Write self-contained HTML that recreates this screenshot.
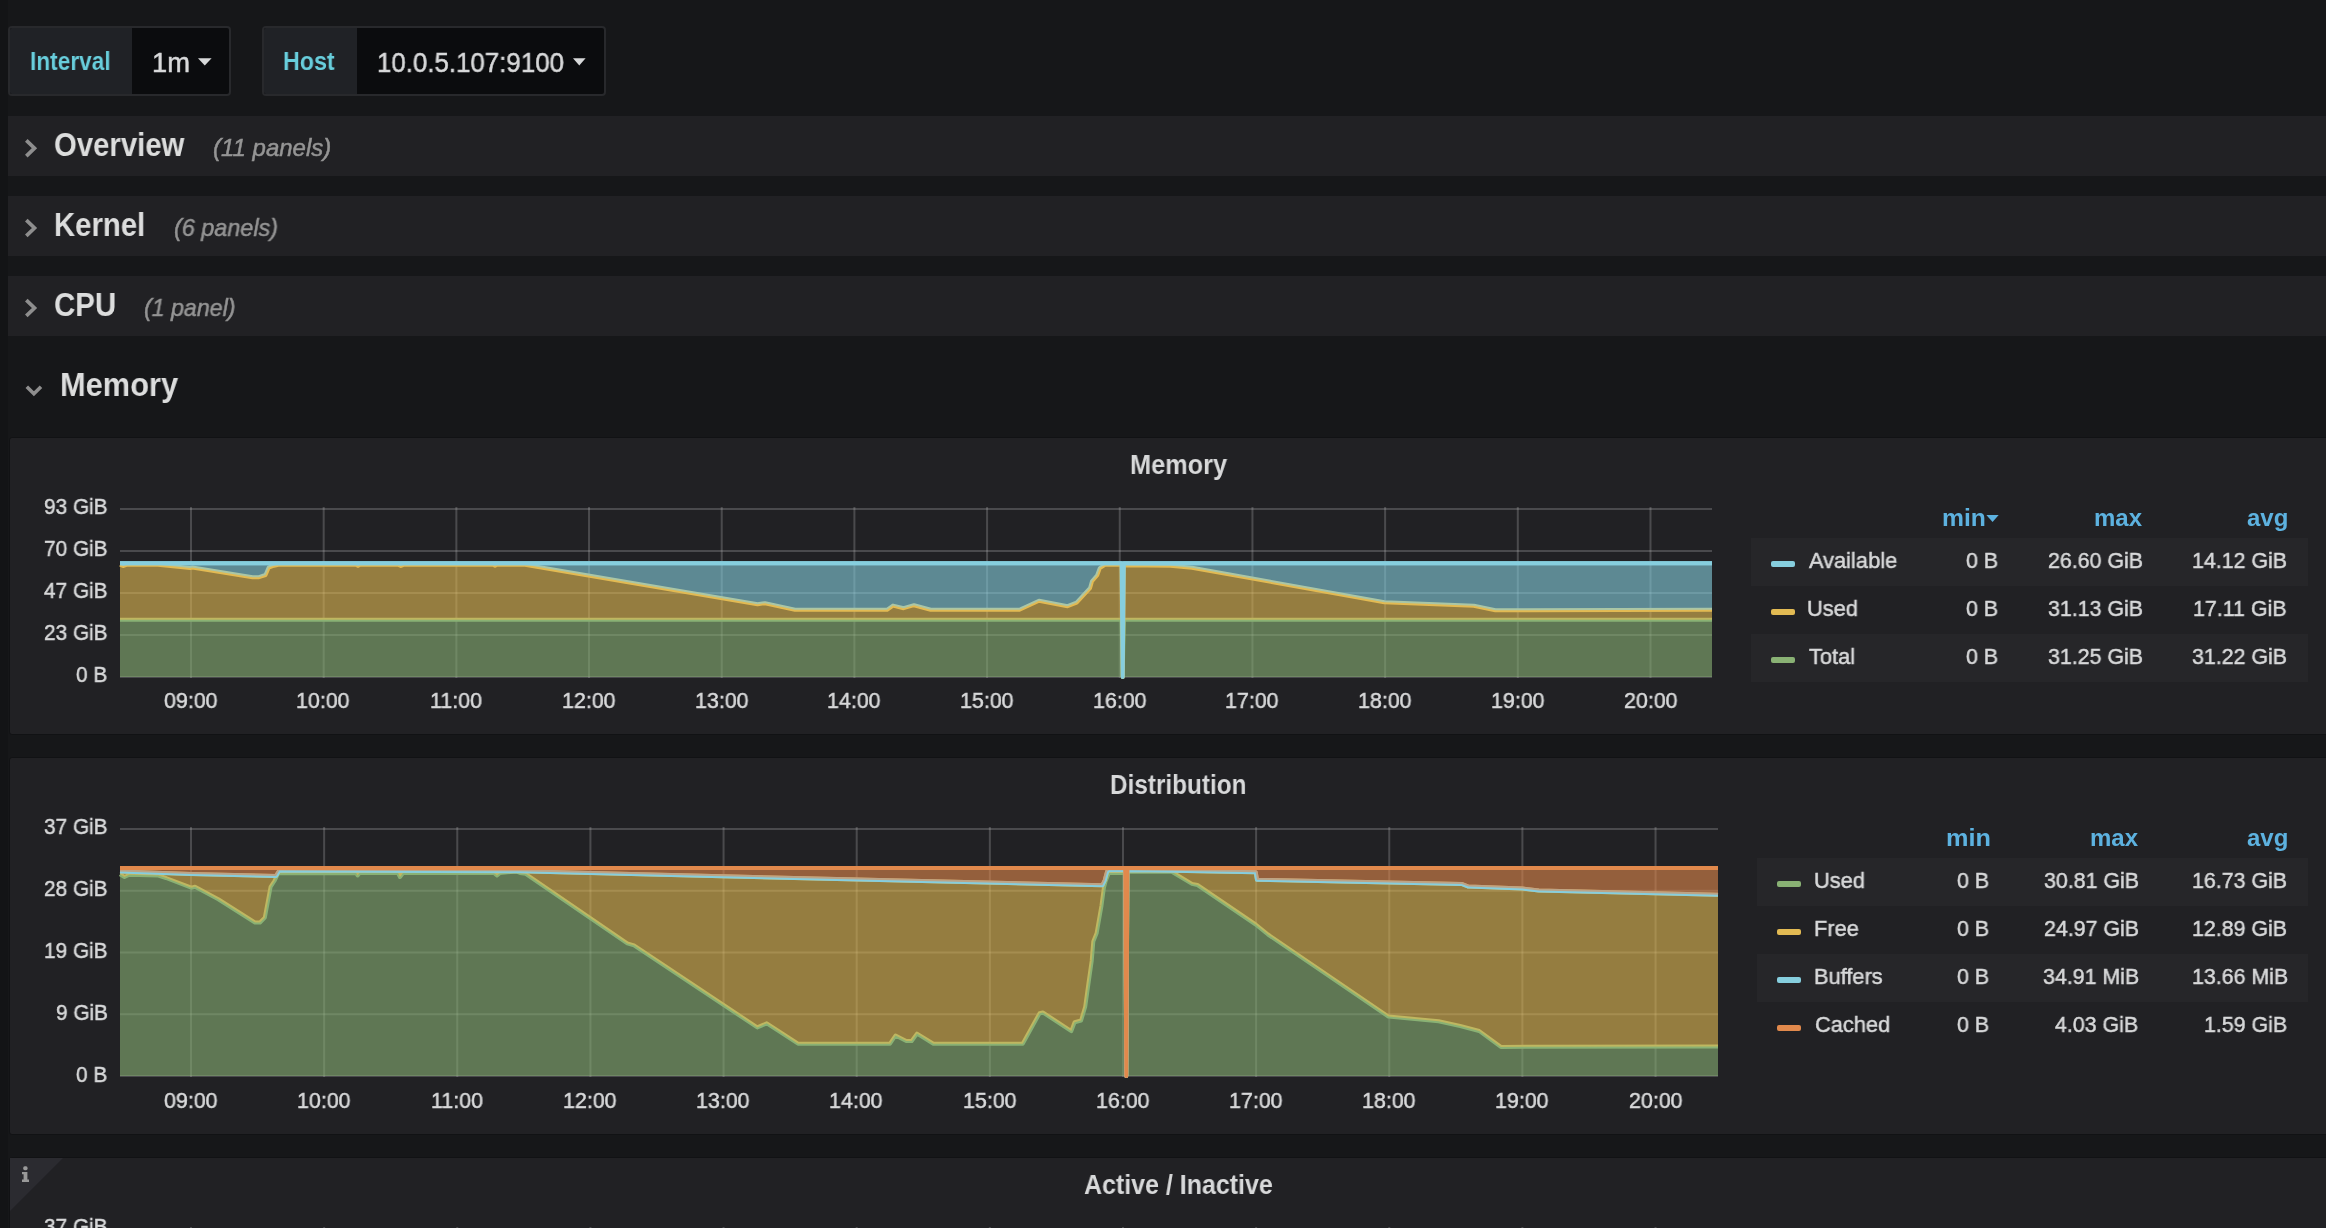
<!DOCTYPE html>
<html><head><meta charset="utf-8"><title>Grafana - Memory</title>
<style>
html,body{margin:0;padding:0}
body{width:2326px;height:1228px;overflow:hidden;background:#161719;font-family:"Liberation Sans",sans-serif;position:relative}
.a{position:absolute}
.t{position:absolute;white-space:pre;transform-origin:0 0;will-change:transform}
.row{position:absolute;left:8px;width:2318px;height:60px;background:#212124}
.panel{position:absolute;left:9px;width:2340px;background:#212124;border-radius:3px;border:1px solid #111214}
.lrow{position:absolute;height:48px;background:#262629}
.sw{position:absolute;width:24px;height:6px;border-radius:2px}
</style></head>
<body>
<div class="a" style="left:0;top:0;width:8px;height:1228px;background:#131416"></div>
<div class="a" style="left:8px;top:26px;width:223px;height:70px;box-sizing:border-box;border:2px solid #28292c;border-radius:4px;background:#0b0c0e;overflow:hidden"><div class="a" style="left:0;top:0;width:121.8px;height:66px;background:#202226"></div></div>
<div class="a" style="left:262px;top:26px;width:344px;height:70px;box-sizing:border-box;border:2px solid #28292c;border-radius:4px;background:#0b0c0e;overflow:hidden"><div class="a" style="left:0;top:0;width:92.6px;height:66px;background:#202226"></div></div>
<svg class="a" style="left:0;top:0" width="2326" height="120"><polygon points="198.0,58.2 211.6,58.2 204.8,65.6" fill="#d8d9da"/></svg>
<svg class="a" style="left:0;top:0" width="2326" height="120"><polygon points="573.0,58.2 585.6,58.2 579.3,65.6" fill="#d8d9da"/></svg>
<div class="row" style="top:116px"></div>
<div class="row" style="top:196px"></div>
<div class="row" style="top:276px"></div>
<svg class="a" style="left:0;top:0" width="60" height="420"><polyline points="26.3,140.29999999999998 34.5,148.2 26.3,156.1" fill="none" stroke="#8e8e8e" stroke-width="3.7"/><polyline points="26.3,220.1 34.5,228.0 26.3,235.9" fill="none" stroke="#8e8e8e" stroke-width="3.7"/><polyline points="26.3,300.1 34.5,308.0 26.3,315.9" fill="none" stroke="#8e8e8e" stroke-width="3.7"/><polyline points="26.8,386.8 33.9,393.8 41.0,386.8" fill="none" stroke="#8e8e8e" stroke-width="3.6"/></svg>
<div class="panel" style="top:437px;height:296px"></div>
<div class="panel" style="top:757px;height:376px"></div>
<div class="panel" style="top:1157px;height:100px"></div>
<svg class="a" style="left:0;top:1150px" width="80" height="80"><polygon points="10,8 63,8 10,61" fill="#2b2b30"/><rect x="23.2" y="16.3" width="4.4" height="3.9" rx="1.6" fill="#999"/><path d="M22,22 H27.4 V29.4 H29 V31.9 H22 V29.4 H23.6 V24.2 H22 Z" fill="#999"/></svg>
<div class="lrow" style="left:1751px;top:538px;width:557px"></div>
<div class="lrow" style="left:1757px;top:858px;width:551px"></div>
<div class="lrow" style="left:1751px;top:634px;width:557px"></div>
<div class="lrow" style="left:1757px;top:954px;width:551px"></div>
<div class="sw" style="left:1771px;top:561px;background:#86cede"></div>
<div class="sw" style="left:1771px;top:609px;background:#e2ba53"></div>
<div class="sw" style="left:1771px;top:657px;background:#89b174"></div>
<div class="sw" style="left:1777px;top:881px;background:#89b174"></div>
<div class="sw" style="left:1777px;top:929px;background:#e2ba53"></div>
<div class="sw" style="left:1777px;top:977px;background:#86cede"></div>
<div class="sw" style="left:1777px;top:1025px;background:#e1894c"></div>
<svg class="a" style="left:1980px;top:510px" width="30" height="20"><polygon points="6.4,5.1 18.7,5.1 12.55,12.1" fill="#5db2e0"/></svg>
<svg class="a" style="left:0;top:0" width="2326" height="1228"><rect x="120" y="508" width="1592" height="2" fill="rgba(200,200,200,0.25)"/>
<rect x="120" y="550" width="1592" height="2" fill="rgba(200,200,200,0.25)"/>
<rect x="120" y="592" width="1592" height="2" fill="rgba(200,200,200,0.25)"/>
<rect x="120" y="634" width="1592" height="2" fill="rgba(200,200,200,0.25)"/>
<rect x="120" y="676" width="1592" height="2" fill="rgba(200,200,200,0.25)"/>
<rect x="190.00" y="507" width="2" height="171.00" fill="rgba(200,200,200,0.25)"/>
<rect x="322.68" y="507" width="2" height="171.00" fill="rgba(200,200,200,0.25)"/>
<rect x="455.36" y="507" width="2" height="171.00" fill="rgba(200,200,200,0.25)"/>
<rect x="588.04" y="507" width="2" height="171.00" fill="rgba(200,200,200,0.25)"/>
<rect x="720.72" y="507" width="2" height="171.00" fill="rgba(200,200,200,0.25)"/>
<rect x="853.40" y="507" width="2" height="171.00" fill="rgba(200,200,200,0.25)"/>
<rect x="986.08" y="507" width="2" height="171.00" fill="rgba(200,200,200,0.25)"/>
<rect x="1118.76" y="507" width="2" height="171.00" fill="rgba(200,200,200,0.25)"/>
<rect x="1251.44" y="507" width="2" height="171.00" fill="rgba(200,200,200,0.25)"/>
<rect x="1384.12" y="507" width="2" height="171.00" fill="rgba(200,200,200,0.25)"/>
<rect x="1516.80" y="507" width="2" height="171.00" fill="rgba(200,200,200,0.25)"/>
<rect x="1649.48" y="507" width="2" height="171.00" fill="rgba(200,200,200,0.25)"/>
<polygon points="120.00,619.70 1121.60,619.70 1122.70,677.00 1123.80,619.70 1712.00,619.70 1712.00,677.00 120.00,677.00" fill="#89b174" fill-opacity="0.6"/>
<polyline points="120.00,619.70 1121.60,619.70 1122.70,677.00 1123.80,619.70 1712.00,619.70" fill="none" stroke="#89b174" stroke-width="4" stroke-linejoin="round"/>
<polygon points="120.00,564.70 123.60,566.00 127.00,564.70 158.00,564.70 190.20,568.10 192.40,567.60 252.60,577.20 259.00,577.20 265.50,575.00 268.70,567.50 274.00,565.70 278.40,564.70 356.00,564.70 358.00,565.90 360.00,564.70 398.00,564.70 400.90,566.00 404.00,564.70 493.00,564.70 495.00,565.70 497.00,564.70 525.00,564.70 757.60,604.20 765.00,603.20 795.00,609.80 887.00,609.80 893.00,605.60 903.60,608.20 914.00,605.20 930.70,609.80 1019.50,609.80 1039.00,600.80 1067.60,606.20 1076.60,602.60 1090.00,588.20 1092.00,581.20 1097.20,575.20 1099.80,568.10 1105.00,564.80 1121.60,564.80 1122.70,677.00 1123.80,565.20 1170.40,565.80 1192.00,567.70 1384.40,602.20 1473.80,605.70 1495.40,610.20 1712.00,609.70 1712.00,619.70 1123.80,619.70 1122.70,677.00 1121.60,619.70 120.00,619.70" fill="#e2ba53" fill-opacity="0.6"/>
<polyline points="120.00,564.70 123.60,566.00 127.00,564.70 158.00,564.70 190.20,568.10 192.40,567.60 252.60,577.20 259.00,577.20 265.50,575.00 268.70,567.50 274.00,565.70 278.40,564.70 356.00,564.70 358.00,565.90 360.00,564.70 398.00,564.70 400.90,566.00 404.00,564.70 493.00,564.70 495.00,565.70 497.00,564.70 525.00,564.70 757.60,604.20 765.00,603.20 795.00,609.80 887.00,609.80 893.00,605.60 903.60,608.20 914.00,605.20 930.70,609.80 1019.50,609.80 1039.00,600.80 1067.60,606.20 1076.60,602.60 1090.00,588.20 1092.00,581.20 1097.20,575.20 1099.80,568.10 1105.00,564.80 1121.60,564.80 1122.70,677.00 1123.80,565.20 1170.40,565.80 1192.00,567.70 1384.40,602.20 1473.80,605.70 1495.40,610.20 1712.00,609.70" fill="none" stroke="#e2ba53" stroke-width="4" stroke-linejoin="round"/>
<polygon points="120.00,563.20 1121.60,563.20 1122.70,677.00 1123.80,563.20 1712.00,563.20 1712.00,609.70 1495.40,610.20 1473.80,605.70 1384.40,602.20 1192.00,567.70 1170.40,565.80 1123.80,565.20 1122.70,677.00 1121.60,564.80 1105.00,564.80 1099.80,568.10 1097.20,575.20 1092.00,581.20 1090.00,588.20 1076.60,602.60 1067.60,606.20 1039.00,600.80 1019.50,609.80 930.70,609.80 914.00,605.20 903.60,608.20 893.00,605.60 887.00,609.80 795.00,609.80 765.00,603.20 757.60,604.20 525.00,564.70 497.00,564.70 495.00,565.70 493.00,564.70 404.00,564.70 400.90,566.00 398.00,564.70 360.00,564.70 358.00,565.90 356.00,564.70 278.40,564.70 274.00,565.70 268.70,567.50 265.50,575.00 259.00,577.20 252.60,577.20 192.40,567.60 190.20,568.10 158.00,564.70 127.00,564.70 123.60,566.00 120.00,564.70" fill="#86cede" fill-opacity="0.6"/>
<polyline points="120.00,563.20 1121.60,563.20 1122.70,677.00 1123.80,563.20 1712.00,563.20" fill="none" stroke="#86cede" stroke-width="4" stroke-linejoin="round"/>
<line x1="120" y1="563.2" x2="1712" y2="563.2" stroke="#86cede" stroke-width="4"/>
<rect x="120" y="828" width="1598" height="2" fill="rgba(200,200,200,0.25)"/>
<rect x="120" y="889.75" width="1598" height="2" fill="rgba(200,200,200,0.25)"/>
<rect x="120" y="951.5" width="1598" height="2" fill="rgba(200,200,200,0.25)"/>
<rect x="120" y="1013.25" width="1598" height="2" fill="rgba(200,200,200,0.25)"/>
<rect x="120" y="1075" width="1598" height="2" fill="rgba(200,200,200,0.25)"/>
<rect x="190.00" y="827" width="2" height="250.00" fill="rgba(200,200,200,0.25)"/>
<rect x="323.14" y="827" width="2" height="250.00" fill="rgba(200,200,200,0.25)"/>
<rect x="456.28" y="827" width="2" height="250.00" fill="rgba(200,200,200,0.25)"/>
<rect x="589.42" y="827" width="2" height="250.00" fill="rgba(200,200,200,0.25)"/>
<rect x="722.56" y="827" width="2" height="250.00" fill="rgba(200,200,200,0.25)"/>
<rect x="855.70" y="827" width="2" height="250.00" fill="rgba(200,200,200,0.25)"/>
<rect x="988.84" y="827" width="2" height="250.00" fill="rgba(200,200,200,0.25)"/>
<rect x="1121.98" y="827" width="2" height="250.00" fill="rgba(200,200,200,0.25)"/>
<rect x="1255.12" y="827" width="2" height="250.00" fill="rgba(200,200,200,0.25)"/>
<rect x="1388.26" y="827" width="2" height="250.00" fill="rgba(200,200,200,0.25)"/>
<rect x="1521.40" y="827" width="2" height="250.00" fill="rgba(200,200,200,0.25)"/>
<rect x="1654.54" y="827" width="2" height="250.00" fill="rgba(200,200,200,0.25)"/>
<polygon points="120.00,874.20 124.50,877.00 129.30,874.80 158.40,875.50 166.00,878.00 191.30,887.70 195.00,886.80 218.30,899.30 255.00,922.50 260.00,922.50 264.80,917.70 270.60,886.80 274.40,881.00 278.30,873.20 356.00,873.00 357.60,875.50 359.50,873.00 398.00,873.00 400.00,877.00 403.00,873.00 494.00,873.00 497.00,875.50 500.00,873.00 516.00,871.50 520.00,873.00 525.70,873.80 627.30,943.40 634.00,945.30 757.30,1027.40 766.80,1023.30 798.00,1043.70 890.00,1043.70 895.50,1035.50 906.30,1041.00 911.70,1041.00 917.00,1033.60 933.40,1043.70 1022.70,1043.70 1039.60,1013.20 1042.80,1012.40 1071.30,1031.10 1074.60,1022.20 1081.10,1020.50 1085.20,1006.70 1088.40,983.90 1091.70,961.00 1093.30,941.50 1096.60,933.30 1101.50,905.60 1103.90,887.70 1105.60,881.20 1108.80,873.00 1125.20,873.00 1126.30,1076.00 1127.40,871.70 1171.80,871.70 1192.00,883.90 1197.50,885.00 1255.70,924.50 1268.00,934.50 1388.50,1016.60 1438.60,1021.20 1460.20,1026.00 1479.20,1031.00 1500.90,1046.90 1718.00,1046.40 1718.00,1076.00 120.00,1076.00" fill="#89b174" fill-opacity="0.6"/>
<polyline points="120.00,874.20 124.50,877.00 129.30,874.80 158.40,875.50 166.00,878.00 191.30,887.70 195.00,886.80 218.30,899.30 255.00,922.50 260.00,922.50 264.80,917.70 270.60,886.80 274.40,881.00 278.30,873.20 356.00,873.00 357.60,875.50 359.50,873.00 398.00,873.00 400.00,877.00 403.00,873.00 494.00,873.00 497.00,875.50 500.00,873.00 516.00,871.50 520.00,873.00 525.70,873.80 627.30,943.40 634.00,945.30 757.30,1027.40 766.80,1023.30 798.00,1043.70 890.00,1043.70 895.50,1035.50 906.30,1041.00 911.70,1041.00 917.00,1033.60 933.40,1043.70 1022.70,1043.70 1039.60,1013.20 1042.80,1012.40 1071.30,1031.10 1074.60,1022.20 1081.10,1020.50 1085.20,1006.70 1088.40,983.90 1091.70,961.00 1093.30,941.50 1096.60,933.30 1101.50,905.60 1103.90,887.70 1105.60,881.20 1108.80,873.00 1125.20,873.00 1126.30,1076.00 1127.40,871.70 1171.80,871.70 1192.00,883.90 1197.50,885.00 1255.70,924.50 1268.00,934.50 1388.50,1016.60 1438.60,1021.20 1460.20,1026.00 1479.20,1031.00 1500.90,1046.90 1718.00,1046.40" fill="none" stroke="#89b174" stroke-width="4" stroke-linejoin="round"/>
<polygon points="120.00,871.40 191.00,874.00 276.00,875.90 279.30,870.50 520.00,871.20 722.00,876.20 1102.30,885.30 1104.70,880.40 1107.20,871.40 1108.80,870.30 1125.20,870.20 1126.30,1076.00 1127.40,870.20 1173.00,870.70 1255.70,872.20 1257.00,879.80 1461.60,883.90 1468.40,886.60 1522.50,888.50 1538.80,890.40 1718.00,894.70 1718.00,1046.40 1500.90,1046.90 1479.20,1031.00 1460.20,1026.00 1438.60,1021.20 1388.50,1016.60 1268.00,934.50 1255.70,924.50 1197.50,885.00 1192.00,883.90 1171.80,871.70 1127.40,871.70 1126.30,1076.00 1125.20,873.00 1108.80,873.00 1105.60,881.20 1103.90,887.70 1101.50,905.60 1096.60,933.30 1093.30,941.50 1091.70,961.00 1088.40,983.90 1085.20,1006.70 1081.10,1020.50 1074.60,1022.20 1071.30,1031.10 1042.80,1012.40 1039.60,1013.20 1022.70,1043.70 933.40,1043.70 917.00,1033.60 911.70,1041.00 906.30,1041.00 895.50,1035.50 890.00,1043.70 798.00,1043.70 766.80,1023.30 757.30,1027.40 634.00,945.30 627.30,943.40 525.70,873.80 520.00,873.00 516.00,871.50 500.00,873.00 497.00,875.50 494.00,873.00 403.00,873.00 400.00,877.00 398.00,873.00 359.50,873.00 357.60,875.50 356.00,873.00 278.30,873.20 274.40,881.00 270.60,886.80 264.80,917.70 260.00,922.50 255.00,922.50 218.30,899.30 195.00,886.80 191.30,887.70 166.00,878.00 158.40,875.50 129.30,874.80 124.50,877.00 120.00,874.20" fill="#e2ba53" fill-opacity="0.6"/>
<polyline points="120.00,871.40 191.00,874.00 276.00,875.90 279.30,870.50 520.00,871.20 722.00,876.20 1102.30,885.30 1104.70,880.40 1107.20,871.40 1108.80,870.30 1125.20,870.20 1126.30,1076.00 1127.40,870.20 1173.00,870.70 1255.70,872.20 1257.00,879.80 1461.60,883.90 1468.40,886.60 1522.50,888.50 1538.80,890.40 1718.00,894.70" fill="none" stroke="#e2ba53" stroke-width="4" stroke-linejoin="round"/>
<polygon points="120.00,871.40 191.00,874.00 276.00,875.90 279.30,870.50 520.00,871.20 722.00,876.20 1102.30,885.30 1104.70,880.40 1107.20,871.40 1108.80,870.30 1125.20,870.20 1126.30,1076.00 1127.40,870.20 1173.00,870.70 1255.70,872.20 1257.00,879.80 1461.60,883.90 1468.40,886.60 1522.50,888.50 1538.80,890.40 1718.00,894.70 1718.00,894.70 1538.80,890.40 1522.50,888.50 1468.40,886.60 1461.60,883.90 1257.00,879.80 1255.70,872.20 1173.00,870.70 1127.40,870.20 1126.30,1076.00 1125.20,870.20 1108.80,870.30 1107.20,871.40 1104.70,880.40 1102.30,885.30 722.00,876.20 520.00,871.20 279.30,870.50 276.00,875.90 191.00,874.00 120.00,871.40" fill="#86cede" fill-opacity="0.6"/>
<polyline points="120.00,871.40 191.00,874.00 276.00,875.90 279.30,870.50 520.00,871.20 722.00,876.20 1102.30,885.30 1104.70,880.40 1107.20,871.40 1108.80,870.30 1125.20,870.20 1126.30,1076.00 1127.40,870.20 1173.00,870.70 1255.70,872.20 1257.00,879.80 1461.60,883.90 1468.40,886.60 1522.50,888.50 1538.80,890.40 1718.00,894.70" fill="none" stroke="#86cede" stroke-width="4" stroke-linejoin="round"/>
<polygon points="120.00,868.00 1125.20,868.00 1126.30,1076.00 1127.40,868.00 1718.00,868.00 1718.00,894.70 1538.80,890.40 1522.50,888.50 1468.40,886.60 1461.60,883.90 1257.00,879.80 1255.70,872.20 1173.00,870.70 1127.40,870.20 1126.30,1076.00 1125.20,870.20 1108.80,870.30 1107.20,871.40 1104.70,880.40 1102.30,885.30 722.00,876.20 520.00,871.20 279.30,870.50 276.00,875.90 191.00,874.00 120.00,871.40" fill="#e1894c" fill-opacity="0.6"/>
<polyline points="120.00,868.00 1125.20,868.00 1126.30,1076.00 1127.40,868.00 1718.00,868.00" fill="none" stroke="#e1894c" stroke-width="4" stroke-linejoin="round"/>
<line x1="120" y1="868.0" x2="1718" y2="868.0" stroke="#e1894c" stroke-width="4"/><rect x="190.00" y="1227" width="2" height="1" fill="rgba(200,200,200,0.25)"/><rect x="323.14" y="1227" width="2" height="1" fill="rgba(200,200,200,0.25)"/><rect x="456.28" y="1227" width="2" height="1" fill="rgba(200,200,200,0.25)"/><rect x="589.42" y="1227" width="2" height="1" fill="rgba(200,200,200,0.25)"/><rect x="722.56" y="1227" width="2" height="1" fill="rgba(200,200,200,0.25)"/><rect x="855.70" y="1227" width="2" height="1" fill="rgba(200,200,200,0.25)"/><rect x="988.84" y="1227" width="2" height="1" fill="rgba(200,200,200,0.25)"/><rect x="1121.98" y="1227" width="2" height="1" fill="rgba(200,200,200,0.25)"/><rect x="1255.12" y="1227" width="2" height="1" fill="rgba(200,200,200,0.25)"/><rect x="1388.26" y="1227" width="2" height="1" fill="rgba(200,200,200,0.25)"/><rect x="1521.40" y="1227" width="2" height="1" fill="rgba(200,200,200,0.25)"/><rect x="1654.54" y="1227" width="2" height="1" fill="rgba(200,200,200,0.25)"/></svg>
<div class="t" style="left:30.26px;top:48px;font-size:26px;line-height:26px;color:#68cedc;font-weight:bold;transform:scaleX(0.8719)">Interval</div>
<div class="t" style="left:151.68px;top:50px;font-size:27px;line-height:27px;color:#d8d9da;-webkit-text-stroke-width:0.5px;transform:scaleX(1.0118)">1m</div>
<div class="t" style="left:283.41px;top:48px;font-size:26px;line-height:26px;color:#68cedc;font-weight:bold;transform:scaleX(0.8946)">Host</div>
<div class="t" style="left:376.78px;top:50px;font-size:27px;line-height:27px;color:#d8d9da;-webkit-text-stroke-width:0.5px;transform:scaleX(0.9578)">10.0.5.107:9100</div>
<div class="t" style="left:54.21px;top:128px;font-size:33px;line-height:33px;color:#dcdddd;font-weight:bold;transform:scaleX(0.8884)">Overview</div>
<div class="t" style="left:213.00px;top:136px;font-size:24px;line-height:24px;color:#959595;-webkit-text-stroke-width:0.5px;font-style:italic">(11 panels)</div>
<div class="t" style="left:53.72px;top:208px;font-size:33px;line-height:33px;color:#dcdddd;font-weight:bold;transform:scaleX(0.8879)">Kernel</div>
<div class="t" style="left:173.73px;top:216px;font-size:24px;line-height:24px;color:#959595;-webkit-text-stroke-width:0.5px;font-style:italic;transform:scaleX(0.9743)">(6 panels)</div>
<div class="t" style="left:54.21px;top:288px;font-size:33px;line-height:33px;color:#dcdddd;font-weight:bold;transform:scaleX(0.8940)">CPU</div>
<div class="t" style="left:144.43px;top:296px;font-size:24px;line-height:24px;color:#959595;-webkit-text-stroke-width:0.5px;font-style:italic;transform:scaleX(0.9656)">(1 panel)</div>
<div class="t" style="left:59.93px;top:368px;font-size:33px;line-height:33px;color:#dcdddd;font-weight:bold;transform:scaleX(0.9331)">Memory</div>
<div class="t" style="left:1129.82px;top:452px;font-size:27px;line-height:27px;color:#d8d9da;font-weight:bold;transform:scaleX(0.9376)">Memory</div>
<div class="t" style="left:1110.20px;top:772px;font-size:27px;line-height:27px;color:#d8d9da;font-weight:bold;transform:scaleX(0.9007)">Distribution</div>
<div class="t" style="left:1084.17px;top:1172px;font-size:27px;line-height:27px;color:#d8d9da;font-weight:bold;transform:scaleX(0.9252)">Active / Inactive</div>
<div class="t" style="left:44.42px;top:496px;font-size:22.4px;line-height:22.4px;color:#d8d9da;-webkit-text-stroke-width:0.5px;transform:scaleX(0.9280)">93 GiB</div>
<div class="t" style="left:44.42px;top:538px;font-size:22.4px;line-height:22.4px;color:#d8d9da;-webkit-text-stroke-width:0.5px;transform:scaleX(0.9280)">70 GiB</div>
<div class="t" style="left:44.42px;top:580px;font-size:22.4px;line-height:22.4px;color:#d8d9da;-webkit-text-stroke-width:0.5px;transform:scaleX(0.9280)">47 GiB</div>
<div class="t" style="left:44.42px;top:622px;font-size:22.4px;line-height:22.4px;color:#d8d9da;-webkit-text-stroke-width:0.5px;transform:scaleX(0.9280)">23 GiB</div>
<div class="t" style="left:75.98px;top:664px;font-size:22.4px;line-height:22.4px;color:#d8d9da;-webkit-text-stroke-width:0.5px;transform:scaleX(0.9280)">0 B</div>
<div class="t" style="left:44.42px;top:816px;font-size:22.4px;line-height:22.4px;color:#d8d9da;-webkit-text-stroke-width:0.5px;transform:scaleX(0.9280)">37 GiB</div>
<div class="t" style="left:44.42px;top:878px;font-size:22.4px;line-height:22.4px;color:#d8d9da;-webkit-text-stroke-width:0.5px;transform:scaleX(0.9280)">28 GiB</div>
<div class="t" style="left:44.42px;top:940px;font-size:22.4px;line-height:22.4px;color:#d8d9da;-webkit-text-stroke-width:0.5px;transform:scaleX(0.9280)">19 GiB</div>
<div class="t" style="left:55.56px;top:1002px;font-size:22.4px;line-height:22.4px;color:#d8d9da;-webkit-text-stroke-width:0.5px;transform:scaleX(0.9280)">9 GiB</div>
<div class="t" style="left:75.98px;top:1064px;font-size:22.4px;line-height:22.4px;color:#d8d9da;-webkit-text-stroke-width:0.5px;transform:scaleX(0.9280)">0 B</div>
<div class="t" style="left:44.42px;top:1216px;font-size:22.4px;line-height:22.4px;color:#d8d9da;-webkit-text-stroke-width:0.5px;transform:scaleX(0.9280)">37 GiB</div>
<div class="t" style="left:164.26px;top:690px;font-size:22.4px;line-height:22.4px;color:#d8d9da;-webkit-text-stroke-width:0.5px;transform:scaleX(0.9550)">09:00</div>
<div class="t" style="left:164.26px;top:1090px;font-size:22.4px;line-height:22.4px;color:#d8d9da;-webkit-text-stroke-width:0.5px;transform:scaleX(0.9550)">09:00</div>
<div class="t" style="left:296.46px;top:690px;font-size:22.4px;line-height:22.4px;color:#d8d9da;-webkit-text-stroke-width:0.5px;transform:scaleX(0.9550)">10:00</div>
<div class="t" style="left:296.92px;top:1090px;font-size:22.4px;line-height:22.4px;color:#d8d9da;-webkit-text-stroke-width:0.5px;transform:scaleX(0.9550)">10:00</div>
<div class="t" style="left:429.62px;top:690px;font-size:22.4px;line-height:22.4px;color:#d8d9da;-webkit-text-stroke-width:0.5px;transform:scaleX(0.9550)">11:00</div>
<div class="t" style="left:430.54px;top:1090px;font-size:22.4px;line-height:22.4px;color:#d8d9da;-webkit-text-stroke-width:0.5px;transform:scaleX(0.9550)">11:00</div>
<div class="t" style="left:561.82px;top:690px;font-size:22.4px;line-height:22.4px;color:#d8d9da;-webkit-text-stroke-width:0.5px;transform:scaleX(0.9550)">12:00</div>
<div class="t" style="left:563.20px;top:1090px;font-size:22.4px;line-height:22.4px;color:#d8d9da;-webkit-text-stroke-width:0.5px;transform:scaleX(0.9550)">12:00</div>
<div class="t" style="left:694.50px;top:690px;font-size:22.4px;line-height:22.4px;color:#d8d9da;-webkit-text-stroke-width:0.5px;transform:scaleX(0.9550)">13:00</div>
<div class="t" style="left:696.34px;top:1090px;font-size:22.4px;line-height:22.4px;color:#d8d9da;-webkit-text-stroke-width:0.5px;transform:scaleX(0.9550)">13:00</div>
<div class="t" style="left:827.18px;top:690px;font-size:22.4px;line-height:22.4px;color:#d8d9da;-webkit-text-stroke-width:0.5px;transform:scaleX(0.9550)">14:00</div>
<div class="t" style="left:829.48px;top:1090px;font-size:22.4px;line-height:22.4px;color:#d8d9da;-webkit-text-stroke-width:0.5px;transform:scaleX(0.9550)">14:00</div>
<div class="t" style="left:959.86px;top:690px;font-size:22.4px;line-height:22.4px;color:#d8d9da;-webkit-text-stroke-width:0.5px;transform:scaleX(0.9550)">15:00</div>
<div class="t" style="left:962.62px;top:1090px;font-size:22.4px;line-height:22.4px;color:#d8d9da;-webkit-text-stroke-width:0.5px;transform:scaleX(0.9550)">15:00</div>
<div class="t" style="left:1092.54px;top:690px;font-size:22.4px;line-height:22.4px;color:#d8d9da;-webkit-text-stroke-width:0.5px;transform:scaleX(0.9550)">16:00</div>
<div class="t" style="left:1095.76px;top:1090px;font-size:22.4px;line-height:22.4px;color:#d8d9da;-webkit-text-stroke-width:0.5px;transform:scaleX(0.9550)">16:00</div>
<div class="t" style="left:1225.22px;top:690px;font-size:22.4px;line-height:22.4px;color:#d8d9da;-webkit-text-stroke-width:0.5px;transform:scaleX(0.9550)">17:00</div>
<div class="t" style="left:1228.90px;top:1090px;font-size:22.4px;line-height:22.4px;color:#d8d9da;-webkit-text-stroke-width:0.5px;transform:scaleX(0.9550)">17:00</div>
<div class="t" style="left:1357.90px;top:690px;font-size:22.4px;line-height:22.4px;color:#d8d9da;-webkit-text-stroke-width:0.5px;transform:scaleX(0.9550)">18:00</div>
<div class="t" style="left:1362.04px;top:1090px;font-size:22.4px;line-height:22.4px;color:#d8d9da;-webkit-text-stroke-width:0.5px;transform:scaleX(0.9550)">18:00</div>
<div class="t" style="left:1490.58px;top:690px;font-size:22.4px;line-height:22.4px;color:#d8d9da;-webkit-text-stroke-width:0.5px;transform:scaleX(0.9550)">19:00</div>
<div class="t" style="left:1495.18px;top:1090px;font-size:22.4px;line-height:22.4px;color:#d8d9da;-webkit-text-stroke-width:0.5px;transform:scaleX(0.9550)">19:00</div>
<div class="t" style="left:1623.74px;top:690px;font-size:22.4px;line-height:22.4px;color:#d8d9da;-webkit-text-stroke-width:0.5px;transform:scaleX(0.9550)">20:00</div>
<div class="t" style="left:1628.80px;top:1090px;font-size:22.4px;line-height:22.4px;color:#d8d9da;-webkit-text-stroke-width:0.5px;transform:scaleX(0.9550)">20:00</div>
<div class="t" style="left:1941.74px;top:506px;font-size:24px;line-height:24px;color:#5db2e0;font-weight:bold;transform:scaleX(1.0282)">min</div>
<div class="t" style="left:2094.00px;top:506px;font-size:24px;line-height:24px;color:#5db2e0;font-weight:bold">max</div>
<div class="t" style="left:2246.50px;top:506px;font-size:24px;line-height:24px;color:#5db2e0;font-weight:bold">avg</div>
<div class="t" style="left:1808.70px;top:550px;font-size:22.5px;line-height:22.5px;color:#d8d9da;-webkit-text-stroke-width:0.5px;transform:scaleX(0.9700)">Available</div>
<div class="t" style="left:1966.05px;top:550px;font-size:22.5px;line-height:22.5px;color:#d8d9da;-webkit-text-stroke-width:0.5px;transform:scaleX(0.9500)">0 B</div>
<div class="t" style="left:2048.05px;top:550px;font-size:22.5px;line-height:22.5px;color:#d8d9da;-webkit-text-stroke-width:0.5px;transform:scaleX(0.9500)">26.60 GiB</div>
<div class="t" style="left:2192.45px;top:550px;font-size:22.5px;line-height:22.5px;color:#d8d9da;-webkit-text-stroke-width:0.5px;transform:scaleX(0.9500)">14.12 GiB</div>
<div class="t" style="left:1806.76px;top:598px;font-size:22.5px;line-height:22.5px;color:#d8d9da;-webkit-text-stroke-width:0.5px;transform:scaleX(0.9700)">Used</div>
<div class="t" style="left:1966.05px;top:598px;font-size:22.5px;line-height:22.5px;color:#d8d9da;-webkit-text-stroke-width:0.5px;transform:scaleX(0.9500)">0 B</div>
<div class="t" style="left:2048.05px;top:598px;font-size:22.5px;line-height:22.5px;color:#d8d9da;-webkit-text-stroke-width:0.5px;transform:scaleX(0.9500)">31.13 GiB</div>
<div class="t" style="left:2193.40px;top:598px;font-size:22.5px;line-height:22.5px;color:#d8d9da;-webkit-text-stroke-width:0.5px;transform:scaleX(0.9500)">17.11 GiB</div>
<div class="t" style="left:1808.70px;top:646px;font-size:22.5px;line-height:22.5px;color:#d8d9da;-webkit-text-stroke-width:0.5px;transform:scaleX(0.9700)">Total</div>
<div class="t" style="left:1966.05px;top:646px;font-size:22.5px;line-height:22.5px;color:#d8d9da;-webkit-text-stroke-width:0.5px;transform:scaleX(0.9500)">0 B</div>
<div class="t" style="left:2048.05px;top:646px;font-size:22.5px;line-height:22.5px;color:#d8d9da;-webkit-text-stroke-width:0.5px;transform:scaleX(0.9500)">31.25 GiB</div>
<div class="t" style="left:2192.45px;top:646px;font-size:22.5px;line-height:22.5px;color:#d8d9da;-webkit-text-stroke-width:0.5px;transform:scaleX(0.9500)">31.22 GiB</div>
<div class="t" style="left:1945.70px;top:826px;font-size:24px;line-height:24px;color:#5db2e0;font-weight:bold;transform:scaleX(1.0513)">min</div>
<div class="t" style="left:2089.90px;top:826px;font-size:24px;line-height:24px;color:#5db2e0;font-weight:bold">max</div>
<div class="t" style="left:2246.50px;top:826px;font-size:24px;line-height:24px;color:#5db2e0;font-weight:bold">avg</div>
<div class="t" style="left:1814.06px;top:870px;font-size:22.5px;line-height:22.5px;color:#d8d9da;-webkit-text-stroke-width:0.5px;transform:scaleX(0.9700)">Used</div>
<div class="t" style="left:1957.45px;top:870px;font-size:22.5px;line-height:22.5px;color:#d8d9da;-webkit-text-stroke-width:0.5px;transform:scaleX(0.9500)">0 B</div>
<div class="t" style="left:2043.85px;top:870px;font-size:22.5px;line-height:22.5px;color:#d8d9da;-webkit-text-stroke-width:0.5px;transform:scaleX(0.9500)">30.81 GiB</div>
<div class="t" style="left:2192.45px;top:870px;font-size:22.5px;line-height:22.5px;color:#d8d9da;-webkit-text-stroke-width:0.5px;transform:scaleX(0.9500)">16.73 GiB</div>
<div class="t" style="left:1814.06px;top:918px;font-size:22.5px;line-height:22.5px;color:#d8d9da;-webkit-text-stroke-width:0.5px;transform:scaleX(0.9700)">Free</div>
<div class="t" style="left:1957.45px;top:918px;font-size:22.5px;line-height:22.5px;color:#d8d9da;-webkit-text-stroke-width:0.5px;transform:scaleX(0.9500)">0 B</div>
<div class="t" style="left:2043.85px;top:918px;font-size:22.5px;line-height:22.5px;color:#d8d9da;-webkit-text-stroke-width:0.5px;transform:scaleX(0.9500)">24.97 GiB</div>
<div class="t" style="left:2192.45px;top:918px;font-size:22.5px;line-height:22.5px;color:#d8d9da;-webkit-text-stroke-width:0.5px;transform:scaleX(0.9500)">12.89 GiB</div>
<div class="t" style="left:1814.06px;top:966px;font-size:22.5px;line-height:22.5px;color:#d8d9da;-webkit-text-stroke-width:0.5px;transform:scaleX(0.9700)">Buffers</div>
<div class="t" style="left:1957.45px;top:966px;font-size:22.5px;line-height:22.5px;color:#d8d9da;-webkit-text-stroke-width:0.5px;transform:scaleX(0.9500)">0 B</div>
<div class="t" style="left:2042.90px;top:966px;font-size:22.5px;line-height:22.5px;color:#d8d9da;-webkit-text-stroke-width:0.5px;transform:scaleX(0.9500)">34.91 MiB</div>
<div class="t" style="left:2191.50px;top:966px;font-size:22.5px;line-height:22.5px;color:#d8d9da;-webkit-text-stroke-width:0.5px;transform:scaleX(0.9500)">13.66 MiB</div>
<div class="t" style="left:1815.03px;top:1014px;font-size:22.5px;line-height:22.5px;color:#d8d9da;-webkit-text-stroke-width:0.5px;transform:scaleX(0.9700)">Cached</div>
<div class="t" style="left:1957.45px;top:1014px;font-size:22.5px;line-height:22.5px;color:#d8d9da;-webkit-text-stroke-width:0.5px;transform:scaleX(0.9500)">0 B</div>
<div class="t" style="left:2055.25px;top:1014px;font-size:22.5px;line-height:22.5px;color:#d8d9da;-webkit-text-stroke-width:0.5px;transform:scaleX(0.9500)">4.03 GiB</div>
<div class="t" style="left:2203.85px;top:1014px;font-size:22.5px;line-height:22.5px;color:#d8d9da;-webkit-text-stroke-width:0.5px;transform:scaleX(0.9500)">1.59 GiB</div>
</body></html>
